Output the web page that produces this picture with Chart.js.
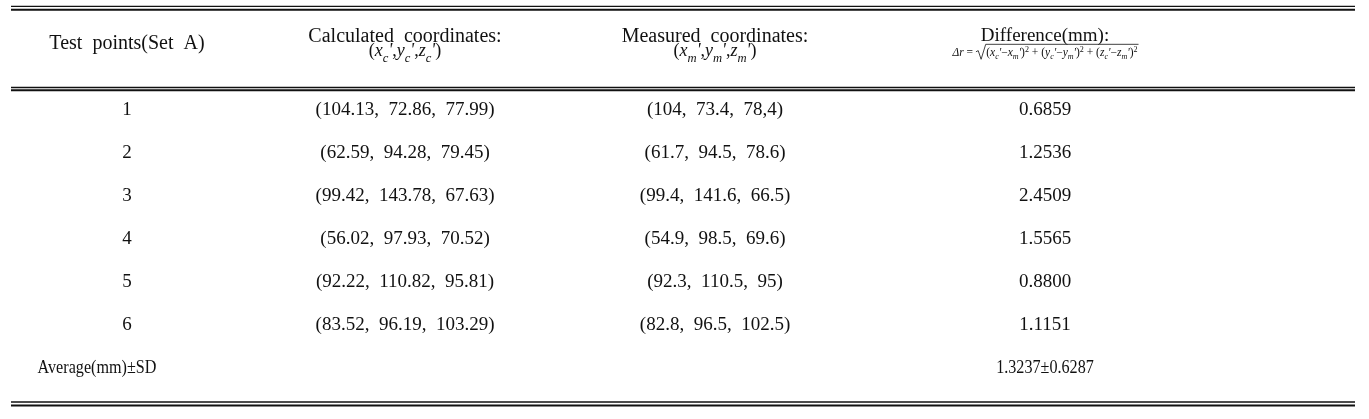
<!DOCTYPE html>
<html>
<head>
<meta charset="utf-8">
<script src="https://cdn.jsdelivr.net/npm/chart.js@4.4.1/dist/chart.umd.min.js"></script>
<style>
  html, body { margin: 0; background: #fff; }
  #wrap { width: 1369px; height: 419px; position: relative; }
</style>
</head>
<body>
<div id="wrap"><canvas id="tbl"></canvas></div>
<script>
// table data
const testPoints = ['1', '2', '3', '4', '5', '6'];
const calcX = [104.13, 62.59, 99.42, 56.02, 92.22, 83.52];
const calcY = [72.86, 94.28, 143.78, 97.93, 110.82, 96.19];
const calcZ = [77.99, 79.45, 67.63, 70.52, 95.81, 103.29];
const measX = [104, 61.7, 99.4, 54.9, 92.3, 82.8];
const measY = [73.4, 94.5, 141.6, 98.5, 110.5, 96.5];
const measZ = ['78,4', '78.6', '66.5', '69.6', '95', '102.5']; // as printed in the source
const diffMm = [0.6859, 1.2536, 2.4509, 1.5565, 0.8800, 1.1151];
const avgDiff = 1.3237;
const sdDiff = 0.6287;
const headers = ['Test  points(Set  A)', 'Calculated  coordinates:', 'Measured  coordinates:', 'Difference(mm):'];
const avgLabel = 'Average(mm)\u00b1SD';

// layout (x in table units, y in row units)
const colX = [127, 405, 715, 1045];
const avgLabelX = 97;
const tableLeft = 11, tableRight = 1355;
const FONT = '"Liberation Serif", "Times New Roman", serif';
const SIZE = 19;

// one point per body cell
const cells = [];
testPoints.forEach((p, i) => {
  cells.push({ x: colX[0], y: i, text: p });
  cells.push({ x: colX[1], y: i, text: '(' + calcX[i] + ',  ' + calcY[i] + ',  ' + calcZ[i] + ')' });
  cells.push({ x: colX[2], y: i, text: '(' + measX[i] + ',  ' + measY[i] + ',  ' + measZ[i] + ')' });
  cells.push({ x: colX[3], y: i, text: diffMm[i].toFixed(4) });
});
cells.push({ x: avgLabelX, y: testPoints.length, text: avgLabel, narrow: true });
cells.push({ x: colX[3], y: testPoints.length, text: avgDiff.toFixed(4) + '\u00b1' + sdDiff.toFixed(4), narrow: true });

// small rich-text helper for the formula lines
function runFont(r, size) {
  const s = r.s === 'sub' || r.small ? size * 0.7 : size;
  return (r.i ? 'italic ' : '') + s + 'px ' + FONT;
}
function drawRuns(ctx, runs, cx, cy, size) {
  let w = 0;
  runs.forEach(r => { ctx.font = runFont(r, size); r.w = r.rad ? size * 0.9 : ctx.measureText(r.t).width; w += r.w; });
  let x = cx - w / 2;
  ctx.textAlign = 'left';
  ctx.textBaseline = 'alphabetic';
  runs.forEach(r => {
    ctx.font = runFont(r, size);
    let dy = 0;
    if (r.s === 'sub') dy = size * 0.3;
    if (r.s === 'sup') dy = -size * 0.35;
    if (r.rad) {
      // radical sign with overbar over the rest
      const top = cy - size * 1.0, bot = cy + size * 0.3;
      ctx.beginPath();
      ctx.moveTo(x, cy - size * 0.35);
      ctx.lineTo(x + size * 0.2, cy - size * 0.45);
      ctx.lineTo(x + size * 0.45, bot);
      ctx.lineTo(x + size * 0.85, top);
      ctx.lineTo(cx + w / 2 + 1, top);
      ctx.lineWidth = 0.8;
      ctx.stroke();
    } else {
      ctx.fillText(r.t, x, cy + dy);
    }
    x += r.w;
  });
}
// prime drawn as an italic apostrophe, which already sits high
function coordRuns(k) {
  const out = [{ t: '(' }];
  ['x', 'y', 'z'].forEach((v, j) => {
    if (j) out.push({ t: ',' });
    out.push({ t: v, i: 1 }, { t: k, i: 1, s: 'sub' }, { t: '\'', i: 1 });
  });
  out.push({ t: ')' });
  return out;
}
function diffRuns() {
  const runs = [{ t: '\u0394r', i: 1 }, { t: ' = ' }, { t: '', rad: 1 }];
  ['x', 'y', 'z'].forEach((v, j) => {
    if (j) runs.push({ t: ' + ' });
    runs.push({ t: '(' }, { t: v, i: 1 }, { t: 'c', i: 1, s: 'sub' }, { t: '\'', i: 1 }, { t: '\u2212' },
      { t: v, i: 1 }, { t: 'm', i: 1, s: 'sub' }, { t: '\'', i: 1 }, { t: ')' }, { t: '2', s: 'sup', small: 1 });
  });
  return runs;
}

const tablePlugin = {
  id: 'tablePlugin',
  afterDatasetsDraw(chart) {
    const ctx = chart.ctx;
    const xs = chart.scales.x, ys = chart.scales.y;
    const px = v => xs.getPixelForValue(v);
    const py = v => ys.getPixelForValue(v);
    ctx.save();
    ctx.fillStyle = '#111';
    ctx.strokeStyle = '#111';

    // rules
    const rule = (y, lw) => {
      ctx.beginPath();
      ctx.lineWidth = lw;
      ctx.moveTo(px(tableLeft), y);
      ctx.lineTo(px(tableRight), y);
      ctx.stroke();
    };
    rule(py(-2.412), 1.3);
    rule(py(-2.33), 2);
    rule(py(-0.523), 1.7);
    rule(py(-0.458), 2);
    rule(py(6.79), 1.5);
    rule(py(6.87), 2);

    // header
    ctx.textAlign = 'center';
    ctx.textBaseline = 'middle';
    ctx.font = '20px ' + FONT;
    ctx.fillText(headers[0], px(colX[0]), py(-1.535));
    ctx.fillText(headers[1], px(colX[1]), py(-1.71));
    ctx.fillText(headers[2], px(colX[2]), py(-1.71));
    ctx.font = SIZE + 'px ' + FONT;
    ctx.fillText(headers[3], px(colX[3]), py(-1.71));
    drawRuns(ctx, coordRuns('c'), px(colX[1]), py(-1.25), 18);
    drawRuns(ctx, coordRuns('m'), px(colX[2]), py(-1.25), 18);
    drawRuns(ctx, diffRuns(), px(colX[3]), py(-1.26), 11.5);

    // body cells, placed from the dataset's own elements
    const meta = chart.getDatasetMeta(0);
    ctx.textAlign = 'center';
    ctx.textBaseline = 'middle';
    meta.data.forEach((el, i) => {
      ctx.font = SIZE + 'px ' + FONT;
      if (cells[i].narrow) {
        ctx.save();
        ctx.translate(el.x, el.y);
        ctx.scale(0.85, 1);
        ctx.fillText(cells[i].text, 0, 0);
        ctx.restore();
      } else {
        ctx.fillText(cells[i].text, el.x, el.y);
      }
    });
    ctx.restore();
  }
};

new Chart(document.getElementById('tbl'), {
  type: 'scatter',
  data: {
    datasets: [{
      data: cells,
      pointRadius: 0,
      pointHoverRadius: 0
    }]
  },
  options: {
    responsive: true,
    maintainAspectRatio: false,
    animation: false,
    events: [],
    layout: { padding: 0 },
    plugins: { legend: { display: false }, tooltip: { enabled: false } },
    scales: {
      x: { type: 'linear', display: false, min: 0, max: 1369 },
      y: { type: 'linear', display: false, reverse: true, min: -110 / 43, max: 309 / 43 }
    }
  },
  plugins: [tablePlugin]
});
</script>
</body>
</html>
